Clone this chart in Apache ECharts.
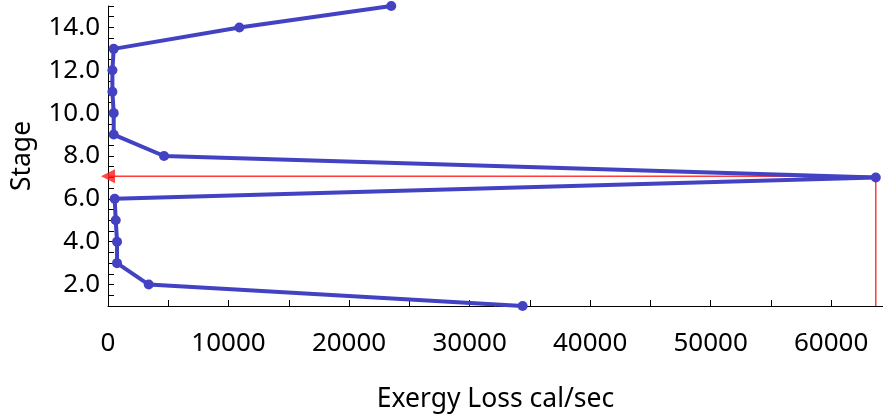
<!DOCTYPE html>
<html>
<head>
<meta charset="utf-8">
<script src="https://cdn.jsdelivr.net/npm/echarts@6/dist/echarts.min.js"></script>
<style>
html,body{margin:0;padding:0;background:#fff;}
#chart{width:883px;height:418px;}
</style>
</head>
<body>
<div id="chart"></div>
<script>
// Data
var stages = [1, 2, 3, 4, 5, 6, 7, 8, 9, 10, 11, 12, 13, 14, 15];
var exergyLoss = [34400, 3380, 750, 750, 640, 556, 63700, 4650, 473, 473, 365, 365, 473, 10900, 23500];
var markerX = 63700;
var markerStage = 7.06;
var xTickLabels = [0, 10000, 20000, 30000, 40000, 50000, 60000];
var yTickLabels = [2, 4, 6, 8, 10, 12, 14];

var lineData = stages.map(function (s, i) { return [exergyLoss[i], s]; });
var redData = [[markerX, 1], [markerX, markerStage], [0, markerStage]];

var chart = echarts.init(document.getElementById('chart'), null, {renderer: 'canvas'});
var font = 'Noto Sans';
var option = {
  animation: false,
  grid: {left: 108, right: 0, top: 6, bottom: 111.5, containLabel: false},
  xAxis: {
    type: 'value', min: 0, max: 64300, interval: 5000,
    name: 'Exergy Loss cal/sec', nameLocation: 'middle', nameGap: 80,
    nameTextStyle: {fontFamily: font, fontSize: 26.5, color: '#000'},
    axisLine: {show: true, onZero: false, lineStyle: {color: '#000', width: 1}},
    axisTick: {show: true, inside: true, length: 6, lineStyle: {color: '#000'}},
    axisLabel: {
      margin: 25, fontFamily: font, fontSize: 26, color: '#000',
      showMaxLabel: false,
      formatter: function (v) { return xTickLabels.indexOf(v) >= 0 ? String(v) : ''; }
    },
    splitLine: {show: false}
  },
  yAxis: {
    type: 'value', min: 1, max: 15, interval: 0.5,
    name: 'Stage', nameLocation: 'middle', nameGap: 72, nameRotate: 90,
    nameTextStyle: {fontFamily: font, fontSize: 26.5, color: '#000'},
    axisLine: {show: true, onZero: false, lineStyle: {color: '#000', width: 1}},
    axisTick: {show: true, inside: true, length: 6, lineStyle: {color: '#000'}},
    axisLabel: {
      margin: 8, fontFamily: font, fontSize: 26, color: '#000',
      formatter: function (v) { return yTickLabels.indexOf(v) >= 0 ? v.toFixed(1) : ''; }
    },
    splitLine: {show: false}
  },
  series: [
    {
      type: 'line', data: redData, clip: false, symbol: 'none', z: 3,
      lineStyle: {color: '#ff3c3c', width: 1.5}
    },
    {
      type: 'scatter', data: [[0, markerStage]], clip: false, z: 4,
      symbol: 'triangle', symbolRotate: 90, symbolSize: [14, 14],
      itemStyle: {color: '#ff1a1a'}
    },
    {
      type: 'line', data: lineData, clip: false, z: 5,
      symbol: 'circle', symbolSize: 10, showSymbol: true,
      lineStyle: {color: '#4242c2', width: 4},
      itemStyle: {color: '#4242c2', borderWidth: 0}
    }
  ]
};
chart.setOption(option);
</script>
</body>
</html>
